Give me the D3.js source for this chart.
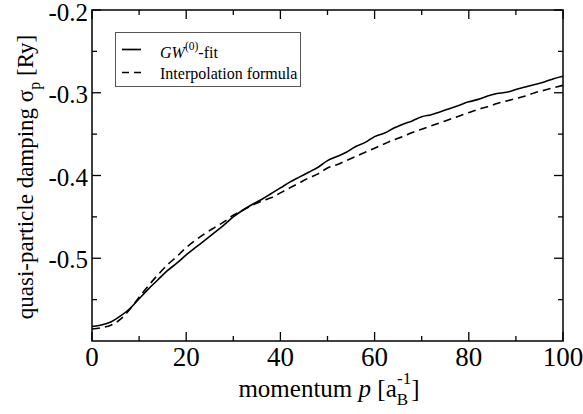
<!DOCTYPE html>
<html><head><meta charset="utf-8">
<script src="https://cdn.jsdelivr.net/npm/d3@7"></script>
<style>
body{margin:0;background:#fff;} svg{display:block;}
text{font-family:"Liberation Serif","Times New Roman",Times,serif;fill:#000;}
</style>
</head><body>
<svg id="c" width="583" height="414"></svg>
<script>
const momentum = [0,2,4,6,8,10,12,14,16,18,20,22,24,26,28,30,32,34,36,38,40,42,44,46,48,50,52,54,56,58,60,62,64,66,68,70,72,74,76,78,80,82,84,86,88,90,92,94,96,98,100];
const gwFit = [-0.5825,-0.5807,-0.577,-0.570,-0.561,-0.549,-0.537,-0.526,-0.515,-0.506,-0.496,-0.487,-0.478,-0.469,-0.460,-0.450,-0.442,-0.435,-0.429,-0.422,-0.415,-0.408,-0.402,-0.396,-0.390,-0.382,-0.377,-0.372,-0.365,-0.360,-0.353,-0.349,-0.343,-0.338,-0.334,-0.329,-0.3265,-0.323,-0.319,-0.315,-0.311,-0.308,-0.304,-0.301,-0.2995,-0.296,-0.293,-0.290,-0.287,-0.283,-0.280];
const interp = [-0.5855,-0.584,-0.581,-0.574,-0.562,-0.547,-0.533,-0.520,-0.508,-0.498,-0.487,-0.478,-0.470,-0.463,-0.456,-0.448,-0.442,-0.436,-0.431,-0.427,-0.421,-0.415,-0.409,-0.403,-0.398,-0.391,-0.387,-0.382,-0.377,-0.372,-0.367,-0.362,-0.357,-0.353,-0.348,-0.344,-0.340,-0.336,-0.332,-0.328,-0.324,-0.320,-0.317,-0.313,-0.310,-0.307,-0.304,-0.300,-0.297,-0.294,-0.291];
const xTicks = [0,20,40,60,80,100];
const xMinor = [10,30,50,70,90];
const yTicks = [-0.5,-0.4,-0.3,-0.2];
const yMinor = [-0.55,-0.45,-0.35,-0.25];
const seriesNames = ["GW(0)-fit","Interpolation formula"];

const svg = d3.select("#c");
const L=92, R=563, T=10, B=341;
const x = d3.scaleLinear().domain([0,100]).range([L,R]);
const y = d3.scaleLinear().domain([-0.6,-0.2]).range([B,T]);

// ticks inward
const gAx = svg.append("g").attr("stroke","#000").attr("stroke-width",1.3);
xTicks.forEach(v=>{
  gAx.append("line").attr("x1",x(v)).attr("x2",x(v)).attr("y1",B).attr("y2",B-9);
  gAx.append("line").attr("x1",x(v)).attr("x2",x(v)).attr("y1",T).attr("y2",T+9);
});
xMinor.forEach(v=>{
  gAx.append("line").attr("x1",x(v)).attr("x2",x(v)).attr("y1",B).attr("y2",B-5);
  gAx.append("line").attr("x1",x(v)).attr("x2",x(v)).attr("y1",T).attr("y2",T+5);
});
yTicks.forEach(v=>{
  gAx.append("line").attr("y1",y(v)).attr("y2",y(v)).attr("x1",L).attr("x2",L+9);
  gAx.append("line").attr("y1",y(v)).attr("y2",y(v)).attr("x1",R).attr("x2",R-9);
});
yMinor.forEach(v=>{
  gAx.append("line").attr("y1",y(v)).attr("y2",y(v)).attr("x1",L).attr("x2",L+5);
  gAx.append("line").attr("y1",y(v)).attr("y2",y(v)).attr("x1",R).attr("x2",R-5);
});

// tick labels
svg.append("g").selectAll("text").data(xTicks).join("text")
  .attr("x",d=>x(d)).attr("y",B+25).attr("text-anchor","middle")
  .attr("font-size",27).text(d=>d);
svg.append("g").selectAll("text").data(yTicks).join("text")
  .attr("x",L-4).attr("y",d=>y(d)+(d===-0.2?10.5:10)).attr("text-anchor","end")
  .attr("font-size",25).text(d=>d.toFixed(1));

// lines
const line = d3.line().x((d,i)=>x(momentum[i])).y(d=>y(d)).curve(d3.curveMonotoneX);
svg.append("path").attr("d",line(interp)).attr("fill","none").attr("stroke","#000")
  .attr("stroke-width",1.6).attr("stroke-dasharray","8,5");
svg.append("path").attr("d",line(gwFit)).attr("fill","none").attr("stroke","#000")
  .attr("stroke-width",1.6);

// frame
svg.append("rect").attr("x",L).attr("y",T).attr("width",R-L).attr("height",B-T)
  .attr("fill","none").attr("stroke","#000").attr("stroke-width",1.5);

// legend
const lg = svg.append("g");
lg.append("rect").attr("x",115.5).attr("y",32.5).attr("width",185).attr("height",54)
  .attr("fill","#fff").attr("stroke","#555").attr("stroke-width",1);
lg.append("line").attr("x1",122).attr("x2",141).attr("y1",49.5).attr("y2",49.5).attr("stroke","#000").attr("stroke-width",1.7);
lg.append("line").attr("x1",122).attr("x2",141).attr("y1",72.5).attr("y2",72.5).attr("stroke","#000").attr("stroke-width",1.7).attr("stroke-dasharray","7,5");
const t1 = lg.append("text").attr("x",160).attr("y",58).attr("font-size",16);
t1.append("tspan").attr("font-style","italic").text("GW");
t1.append("tspan").attr("font-size",11.5).attr("dy",-8).text("(0)");
t1.append("tspan").attr("dy",8).text("-fit");
lg.append("text").attr("x",160).attr("y",79).attr("font-size",16).text(seriesNames[1]);

// axis titles
const xt = svg.append("text").attr("x",329).attr("y",397).attr("text-anchor","middle")
  .attr("font-size",25);
xt.append("tspan").text("momentum ");
xt.append("tspan").attr("font-style","italic").text("p");
xt.append("tspan").text(" [a");
xt.append("tspan").attr("font-size",17).attr("dy",8).text("B");
xt.append("tspan").attr("font-size",17).attr("dx",-11).attr("dy",-21).text("-1");
xt.append("tspan").attr("dy",13).text("]");

const yt = svg.append("text").attr("transform","translate(33,177) rotate(-90)").attr("text-anchor","middle")
  .attr("font-size",23);
yt.append("tspan").text("quasi-particle damping σ");
yt.append("tspan").attr("font-size",16).attr("dy",7).text("p");
yt.append("tspan").attr("dy",-7).text(" [Ry]");
</script>
</body></html>
